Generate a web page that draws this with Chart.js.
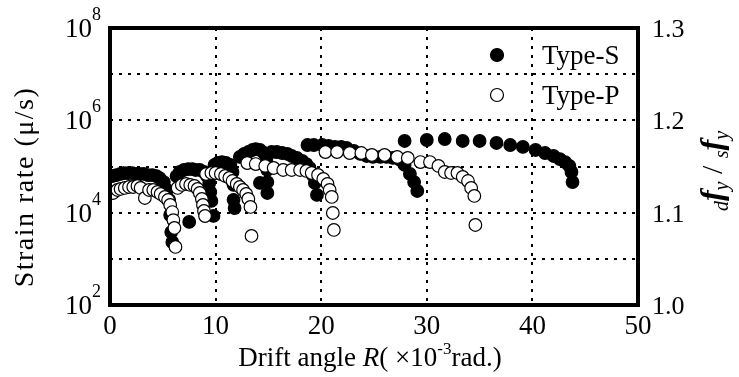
<!DOCTYPE html>
<html>
<head>
<meta charset="utf-8">
<script src="https://cdn.jsdelivr.net/npm/chart.js"></script>
<style>
  html, body { margin: 0; padding: 0; background: #fff; }
</style>
</head>
<body>
<canvas id="myChart" width="739" height="377"></canvas>
<script>
// Type-S (filled) : drift angle R (x10^-3 rad.) / strain rate (μ/s)
const typeSDrift = [
  0.2, 0.6, 1.0, 1.3, 1.7, 2.1, 2.5, 2.8, 3.2, 3.6, 4.0, 4.4, 4.7, 5.1, 5.4, 5.6, 5.7, 5.8, 5.9,
  6.3, 6.6, 7.0, 7.4, 7.8, 8.1, 8.5, 8.9, 9.2, 9.4, 9.5, 9.6, 9.8, 7.5,
  9.9, 10.2, 10.6, 11.0, 11.4, 11.6, 11.7, 11.7, 11.8,
  12.3, 12.7, 13.1, 13.5, 13.8, 14.2, 14.6, 14.8, 14.9, 14.9, 14.9, 14.2,
  15.3, 15.8, 16.3, 16.8, 17.2, 17.7, 18.2, 18.6, 18.9, 19.2, 19.4, 19.6,
  18.7, 19.3, 20.1, 20.7, 21.3, 21.9, 22.4, 23.1, 23.7, 24.3, 24.9, 25.6, 26.2, 26.8, 27.5, 27.9, 28.4, 28.8, 29.1,
  27.9, 30.0, 31.7, 33.4, 35.0, 36.6, 37.9, 39.1, 40.3, 41.2, 42.0, 42.6, 43.1, 43.5, 43.7, 43.8
];
const typeSRate = [
  62000, 65000, 69000, 72000, 72000, 72000, 69000, 69000, 69000, 65000, 65000, 62000, 56000, 46000, 31000, 19000, 8900, 3800, 2300,
  62000, 76000, 84000, 88000, 88000, 84000, 84000, 76000, 62000, 44000, 28000, 18000, 8500, 6300,
  108000, 119000, 125000, 119000, 108000, 76000, 40000, 19000, 12600,
  161000, 187000, 206000, 228000, 239000, 228000, 196000, 138000, 84000, 46000, 26700, 44000,
  206000, 206000, 196000, 187000, 169000, 153000, 132000, 113000, 93000, 65000, 44000, 24200,
  292000, 292000, 292000, 278000, 265000, 265000, 252000, 217000, 187000, 169000, 161000, 161000, 161000, 153000, 138000, 108000, 69000, 46000, 29500,
  357000, 375000, 394000, 357000, 357000, 323000, 292000, 265000, 228000, 196000, 169000, 145000, 125000, 103000, 76000, 46000
];

// Type-P (open)
const typePDrift = [
  0.3, 0.7, 1.0, 1.4, 1.8, 2.2, 2.6, 2.9, 3.3, 3.7, 4.1, 4.5, 4.8, 5.2, 5.5, 5.7, 5.9, 6.0, 6.1, 6.2,
  6.4, 6.8, 7.2, 7.6, 8.0, 8.3, 8.5, 8.7, 8.8, 8.9, 9.0,
  9.1, 9.6, 10.0, 10.5, 10.9, 11.3, 11.6, 12.0, 12.3, 12.6, 12.9, 13.1, 13.3, 13.4,
  13.0, 13.8, 14.7, 15.5, 16.4, 17.2, 18.0, 18.6, 19.1, 19.7, 20.2, 20.6, 20.8, 21.0, 21.1, 21.2,
  20.4, 21.5, 22.7, 23.8, 24.8, 26.0, 27.2, 28.2, 29.4, 30.3, 31.1, 31.7, 32.3, 32.9, 33.4, 33.9, 34.2, 34.5, 34.6
];
const typePRate = [
  26700, 31000, 32600, 34300, 36000, 36000, 37900, 34300, 20800, 31000, 31000, 28100, 25400, 21900, 18800, 14700, 10300, 6900, 4660, 1810,
  34300, 39800, 41800, 39800, 37900, 32600, 26700, 19800, 14700, 10900, 8470,
  68800, 72400, 72400, 68800, 62300, 56400, 48500, 41800, 36000, 31000, 25400, 19800, 13300, 3130,
  119000, 113000, 103000, 92900, 84000, 84000, 84000, 80000, 72400, 65500, 53600, 41800, 31000, 21900, 9840, 4220,
  206000, 206000, 196000, 196000, 178000, 178000, 161000, 153000, 125000, 125000, 103000, 76100, 72400, 72400, 59300, 48500, 34300, 23000, 5410
];

// 축 눈금
const xTicks = [0, 10, 20, 30, 40, 50];
const yGridExps = [3, 4, 5, 6, 7];
const yLabelExps = [2, 4, 6, 8];
const y2Ticks = [1.0, 1.1, 1.2, 1.3];
const seriesNames = ['Type-S', 'Type-P'];

const SERIF = '"Liberation Serif", "Times New Roman", serif';

const toPoints = (xs, ys) => xs.map((x, i) => ({ x: x, y: ys[i] }));

const fontOf = (r) => `${r.italic ? 'italic ' : ''}${r.bold ? 'bold ' : ''}${r.size}px ${SERIF}`;

// 글자 조각들을 이어서 그림 (위첨자/아래첨자 처리)
function drawRuns(ctx, runs, x, y, align, spacing = 0) {
    ctx.letterSpacing = spacing + 'px';
    let total = 0;
    runs.forEach((r) => {
        ctx.font = fontOf(r);
        r.w = ctx.measureText(r.t).width;
        total += r.w;
    });
    let cx = align === 'center' ? x - total / 2 : align === 'right' ? x - total : x;
    ctx.textAlign = 'left';
    ctx.textBaseline = 'alphabetic';
    runs.forEach((r) => {
        ctx.font = fontOf(r);
        ctx.fillText(r.t, cx, y + (r.dy || 0));
        cx += r.w;
    });
    ctx.letterSpacing = '0px';
}

const decorPlugin = {
    id: 'decor',
    beforeDatasetsDraw(chart) {
        const { ctx, chartArea: a, scales } = chart;
        ctx.save();
        ctx.strokeStyle = '#000';
        ctx.lineWidth = 2;
        ctx.setLineDash([3, 6]);
        yGridExps.forEach((e) => {
            const y = Math.round(scales.y.getPixelForValue(Math.pow(10, e)));
            ctx.beginPath();
            ctx.moveTo(a.left, y);
            ctx.lineTo(a.right, y);
            ctx.stroke();
        });
        xTicks.slice(1, -1).forEach((v) => {
            const x = Math.round(scales.x.getPixelForValue(v));
            ctx.beginPath();
            ctx.moveTo(x, a.top);
            ctx.lineTo(x, a.bottom);
            ctx.stroke();
        });
        ctx.restore();
    },
    afterDraw(chart) {
        const { ctx, chartArea: a, scales } = chart;
        ctx.save();
        // 테두리
        ctx.strokeStyle = '#000';
        ctx.lineWidth = 4;
        ctx.strokeRect(a.left, a.top, a.right - a.left, a.bottom - a.top);

        ctx.fillStyle = '#000';
        // 왼쪽 눈금 (10^n)
        yLabelExps.forEach((e) => {
            const y = scales.y.getPixelForValue(Math.pow(10, e));
            drawRuns(ctx, [
                { t: '10', size: 27 },
                { t: String(e), size: 18, dy: -17 }
            ], a.left - 9, y + 9, 'right');
        });
        // 아래 눈금
        xTicks.forEach((v) => {
            const x = scales.x.getPixelForValue(v);
            drawRuns(ctx, [{ t: String(v), size: 27 }], x, a.bottom + 29, 'center');
        });
        // 오른쪽 눈금
        y2Ticks.forEach((v) => {
            const y = scales.y2.getPixelForValue(v);
            drawRuns(ctx, [{ t: v.toFixed(1), size: 26 }], a.right + 14, y + 9, 'left');
        });

        // x축 제목
        drawRuns(ctx, [
            { t: 'Drift angle ', size: 27 },
            { t: 'R', size: 27, italic: true },
            { t: '( \u00D710', size: 27 },
            { t: '-3', size: 17, dy: -12 },
            { t: 'rad.)', size: 27 }
        ], (a.left + a.right) / 2 - 4, 366, 'center');

        // y축 제목
        ctx.save();
        ctx.translate(33, 187);
        ctx.rotate(-Math.PI / 2);
        drawRuns(ctx, [{ t: 'Strain rate (\u03BC/s)', size: 28 }], 0, 0, 'center', 1.5);
        ctx.restore();

        // 오른쪽 축 제목
        ctx.save();
        ctx.translate(722, 171);
        ctx.rotate(-Math.PI / 2);
        drawRuns(ctx, [
            { t: 'd', size: 20, italic: true, dy: 6 },
            { t: 'f', size: 32, italic: true, bold: true },
            { t: 'y', size: 20, italic: true, dy: 6 },
            { t: ' / ', size: 30 },
            { t: 's', size: 20, italic: true, dy: 6 },
            { t: 'f', size: 32, italic: true, bold: true },
            { t: 'y', size: 20, italic: true, dy: 6 }
        ], 0, 0, 'center');
        ctx.restore();

        // 범례
        const legendRows = [
            { name: seriesNames[0], y: 55, fill: '#000' },
            { name: seriesNames[1], y: 95, fill: '#fff' }
        ];
        legendRows.forEach((row) => {
            ctx.beginPath();
            ctx.arc(497, row.y, 6.5, 0, Math.PI * 2);
            ctx.fillStyle = row.fill;
            ctx.fill();
            ctx.lineWidth = 1.2;
            ctx.strokeStyle = '#000';
            ctx.stroke();
            ctx.fillStyle = '#000';
            drawRuns(ctx, [{ t: row.name, size: 27 }], 542, row.y + 9, 'left');
        });
        ctx.restore();
    }
};

const ctx = document.getElementById('myChart').getContext('2d');
new Chart(ctx, {
    type: 'scatter',
    data: {
        datasets: [
            {
                label: seriesNames[0],
                data: toPoints(typeSDrift, typeSRate),
                backgroundColor: '#000',
                borderColor: '#000',
                borderWidth: 1.2,
                pointRadius: 6.3,
                order: 2,
            },
            {
                label: seriesNames[1],
                data: toPoints(typePDrift, typePRate),
                backgroundColor: '#fff',
                borderColor: '#000',
                borderWidth: 1.2,
                pointRadius: 6.3,
                order: 1,
            },
        ],
    },
    options: {
        responsive: false,
        devicePixelRatio: 1,
        animation: false,
        events: [],
        layout: { padding: { left: 110, right: 101, top: 28, bottom: 72 } },
        plugins: {
            legend: { display: false },
            tooltip: { enabled: false },
        },
        scales: {
            x: { type: 'linear', min: 0, max: 50, display: false },
            y: { type: 'logarithmic', min: 100, max: 1e8, display: false },
            y2: { type: 'linear', position: 'right', min: 1.0, max: 1.3, display: false },
        },
    },
    plugins: [decorPlugin],
});
</script>
</body>
</html>
